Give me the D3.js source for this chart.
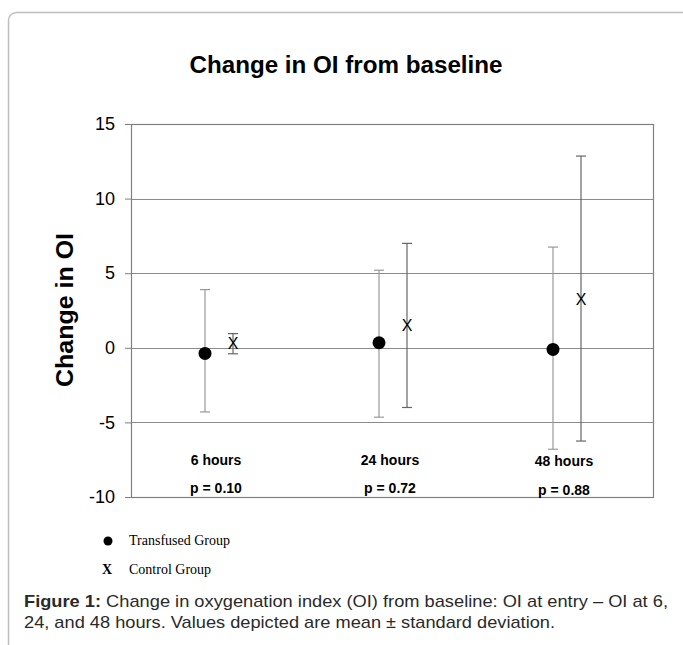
<!DOCTYPE html>
<html>
<head>
<meta charset="utf-8">
<script src="https://cdn.jsdelivr.net/npm/d3@7"></script>
<style>
  html, body { margin: 0; padding: 0; background: #fff; }
  svg { display: block; }
</style>
</head>
<body>
<svg id="chart"></svg>
<script>
// data
const timepoints = ["6 hours", "24 hours", "48 hours"];
const pValues = ["p = 0.10", "p = 0.72", "p = 0.88"];
const transfusedMean = [-0.38, 0.34, -0.11];
const transfusedLow = [-4.3, -4.65, -6.8];
const transfusedHigh = [3.9, 5.2, 6.75];
const controlMean = [0.3, 1.5, 3.25];
const controlLow = [-0.4, -4.0, -6.25];
const controlHigh = [0.95, 7.0, 12.85];
const yTicks = [15, 10, 5, 0, -5, -10];

const W = 683, H = 645;
const margin = { top: 124, right: 30, bottom: 148, left: 131 };
const width = W - margin.left - margin.right;   // 522
const height = H - margin.top - margin.bottom;  // 373

const svg = d3.select("#chart").attr("width", W).attr("height", H);

// outer frame
svg.append("rect")
  .attr("x", 8.5).attr("y", 12.5)
  .attr("width", 690).attr("height", 660)
  .attr("rx", 8)
  .attr("fill", "none")
  .attr("stroke", "#bdbdbd")
  .attr("stroke-width", 1.5);

// title
svg.append("text")
  .attr("x", 346).attr("y", 73)
  .attr("text-anchor", "middle")
  .style("font-family", "Liberation Sans, Arial, sans-serif")
  .style("font-size", "23px")
  .style("font-weight", "bold")
  .attr("textLength", 313)
  .attr("lengthAdjust", "spacingAndGlyphs")
  .text("Change in OI from baseline");

const g = svg.append("g").attr("transform", `translate(${margin.left},${margin.top})`);

const x = d3.scaleBand().domain(timepoints).range([0, width]);
const y = d3.scaleLinear().domain([-10, 15]).range([height, 0]);

// gridlines
g.append("g").selectAll("line")
  .data(yTicks.filter(t => t > -10 && t < 15))
  .enter().append("line")
  .attr("x1", 0).attr("x2", width)
  .attr("y1", d => Math.round(y(d)) + 0.5).attr("y2", d => Math.round(y(d)) + 0.5)
  .attr("stroke", "#8a8a8a").attr("stroke-width", 1);

// plot border
g.append("rect")
  .attr("x", 0.5).attr("y", 0.5)
  .attr("width", width).attr("height", height)
  .attr("fill", "none").attr("stroke", "#808080").attr("stroke-width", 1.2);

// y axis
const yAxis = g.append("g")
  .call(d3.axisLeft(y).tickValues(yTicks).tickSize(6).tickPadding(10).tickFormat(d => String(d)));
yAxis.select(".domain").attr("stroke", "#808080");
yAxis.selectAll(".tick line").attr("stroke", "#808080");
yAxis.selectAll(".tick text")
  .style("font-family", "Liberation Sans, Arial, sans-serif")
  .style("font-size", "18px")
  .attr("fill", "#000");

// y label
svg.append("text")
  .attr("transform", "translate(73,310) rotate(-90)")
  .attr("text-anchor", "middle")
  .style("font-family", "Liberation Sans, Arial, sans-serif")
  .style("font-size", "24px")
  .style("font-weight", "bold")
  .attr("textLength", 154)
  .attr("lengthAdjust", "spacingAndGlyphs")
  .text("Change in OI");

const offsetT = -13, offsetC = 15;
const capW = 5;

function errorBars(means, lows, highs, offset, color, cls) {
  const grp = g.append("g").attr("class", cls);
  const items = grp.selectAll("g").data(timepoints).enter().append("g")
    .attr("transform", d => `translate(${x(d) + x.bandwidth() / 2 + offset},0)`);
  items.append("line")
    .attr("x1", 0).attr("x2", 0)
    .attr("y1", (d, i) => y(lows[i])).attr("y2", (d, i) => y(highs[i]))
    .attr("stroke", color).attr("stroke-width", 1.2);
  items.append("line")
    .attr("x1", -capW).attr("x2", capW)
    .attr("y1", (d, i) => y(lows[i])).attr("y2", (d, i) => y(lows[i]))
    .attr("stroke", color).attr("stroke-width", 1.2);
  items.append("line")
    .attr("x1", -capW).attr("x2", capW)
    .attr("y1", (d, i) => y(highs[i])).attr("y2", (d, i) => y(highs[i]))
    .attr("stroke", color).attr("stroke-width", 1.2);
  return items;
}

const tItems = errorBars(transfusedMean, transfusedLow, transfusedHigh, offsetT, "#999", "transfused");
tItems.append("circle")
  .attr("cx", 0).attr("cy", (d, i) => y(transfusedMean[i]))
  .attr("r", 6.5).attr("fill", "#000");

const cItems = errorBars(controlMean, controlLow, controlHigh, offsetC, "#666", "control");
cItems.append("text")
  .attr("x", 0).attr("y", (d, i) => y(controlMean[i]) + 6)
  .attr("text-anchor", "middle")
  .style("font-family", "Liberation Sans, Arial, sans-serif")
  .style("font-size", "16px")
  .attr("fill", "#000")
  .text("X");

// category and p labels
g.selectAll(".cat").data(timepoints).enter().append("text")
  .attr("class", "cat")
  .attr("x", d => x(d) + x.bandwidth() / 2 - 2)
  .attr("y", (d, i) => i === 2 ? 342 : 341)
  .attr("text-anchor", "middle")
  .style("font-family", "Liberation Sans, Arial, sans-serif")
  .style("font-size", "14px")
  .style("font-weight", "bold")
  .text(d => d);

g.selectAll(".pval").data(timepoints).enter().append("text")
  .attr("class", "pval")
  .attr("x", d => x(d) + x.bandwidth() / 2 - 2)
  .attr("y", (d, i) => i === 2 ? 371 : 369)
  .attr("text-anchor", "middle")
  .style("font-family", "Liberation Sans, Arial, sans-serif")
  .style("font-size", "14px")
  .style("font-weight", "bold")
  .text((d, i) => pValues[i]);

// legend
const legend = svg.append("g");
legend.append("circle").attr("cx", 108).attr("cy", 541).attr("r", 4.5).attr("fill", "#000");
legend.append("text").attr("x", 129).attr("y", 545)
  .style("font-family", "Liberation Serif, Times New Roman, serif")
  .style("font-size", "14px")
  .text("Transfused Group");
legend.append("text").attr("x", 107).attr("y", 574)
  .attr("text-anchor", "middle")
  .style("font-family", "Liberation Serif, Times New Roman, serif")
  .style("font-size", "14px")
  .style("font-weight", "bold")
  .text("X");
legend.append("text").attr("x", 129).attr("y", 574)
  .style("font-family", "Liberation Serif, Times New Roman, serif")
  .style("font-size", "14px")
  .text("Control Group");

// caption
const cap = svg.append("g")
  .style("font-family", "Liberation Sans, Arial, sans-serif")
  .style("font-size", "17px")
  .attr("fill", "#2a2a2a");
const l1 = cap.append("text").attr("x", 24).attr("y", 607)
  .attr("textLength", 644).attr("lengthAdjust", "spacingAndGlyphs");
l1.append("tspan").style("font-weight", "bold").text("Figure 1:");
l1.append("tspan").text(" Change in oxygenation index (OI) from baseline: OI at entry \u2013 OI at 6,");
cap.append("text").attr("x", 24).attr("y", 628)
  .attr("textLength", 531).attr("lengthAdjust", "spacingAndGlyphs")
  .text("24, and 48 hours. Values depicted are mean \u00b1 standard deviation.");
</script>
</body>
</html>
